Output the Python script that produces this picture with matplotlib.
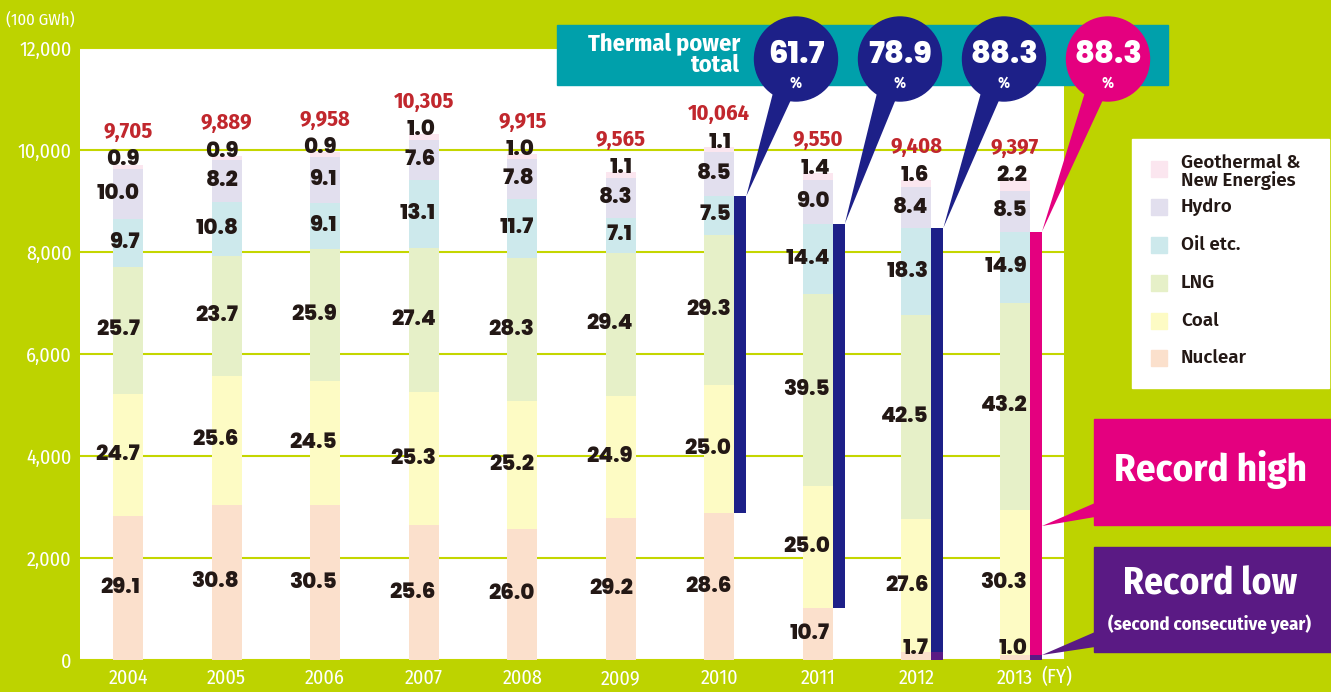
import matplotlib
matplotlib.use('Agg')
import matplotlib.pyplot as plt
from matplotlib.patches import Rectangle, Ellipse, Polygon
from matplotlib import font_manager

# ---------------- data ----------------
years = ['2004', '2005', '2006', '2007', '2008', '2009', '2010', '2011', '2012', '2013']
totals = [9705, 9889, 9958, 10305, 9915, 9565, 10064, 9550, 9408, 9397]
nuclear = [29.1, 30.8, 30.5, 25.6, 26.0, 29.2, 28.6, 10.7, 1.7, 1.0]
coal = [24.7, 25.6, 24.5, 25.3, 25.2, 24.9, 25.0, 25.0, 27.6, 30.3]
lng = [25.7, 23.7, 25.9, 27.4, 28.3, 29.4, 29.3, 39.5, 42.5, 43.2]
oil = [9.7, 10.8, 9.1, 13.1, 11.7, 7.1, 7.5, 14.4, 18.3, 14.9]
hydro = [10.0, 8.2, 9.1, 7.6, 7.8, 8.3, 8.5, 9.0, 8.4, 8.5]
geo = [0.9, 0.9, 0.9, 1.0, 1.0, 1.1, 1.1, 1.4, 1.6, 2.2]
thermal_years = ['2010', '2011', '2012', '2013']
thermal_share = [61.7, 78.9, 88.3, 88.3]
yticks = [0, 2000, 4000, 6000, 8000, 10000, 12000]
legend_labels = ['Geothermal &\nNew Energies', 'Hydro', 'Oil etc.', 'LNG', 'Coal', 'Nuclear']

# ---------------- fonts ----------------
avail = {f.name for f in font_manager.fontManager.ttflist}


def pick(*cands):
    for c in cands:
        if c in avail:
            return c
    return 'DejaVu Sans'


COND = pick('Fira Sans Condensed', 'Roboto Condensed', 'PT Sans Narrow', 'Encode Sans Condensed',
            'Barlow Condensed', 'Liberation Sans Narrow')
HEAVY = pick('Poppins', 'Lato')
LEG = pick('Fira Sans', 'Lato', 'Open Sans')

# ---------------- colours ----------------
BG = '#bdd300'
GRID = '#c4d600'
TEAL = '#00a0ab'
NAVY = '#1d2088'
MAGENTA = '#e4007f'
PURPLE = '#5a1a84'
RED = '#c1272d'
INK = '#231815'
C_NUC = '#fbe0cc'
C_COAL = '#fdfbc4'
C_LNG = '#e6f0c8'
C_OIL = '#cde9ec'
C_HYD = '#e2dfee'
C_GEO = '#fbe6ef'

W, H = 1331, 692
fig = plt.figure(figsize=(W / 100, H / 100), dpi=100, facecolor=BG)

# plot area in pixel coordinates: x 80..1064, y 48..660
L, R, T, B = 80, 1064, 48, 660
ax = fig.add_axes([L / W, (H - B) / H, (R - L) / W, (B - T) / H])
ax.set_facecolor('white')
for s in ax.spines.values():
    s.set_visible(False)

n = len(years)
xs = list(range(n))
step = (1015 - 128) / 9.0
ax.set_xlim(-(128 - L) / step, 9 + (R - 1015) / step)
ax.set_ylim(0, 12000)
bw = 30 / step
tw = 12 / step

segments = [nuclear, coal, lng, oil, hydro, geo]
colors = [C_NUC, C_COAL, C_LNG, C_OIL, C_HYD, C_GEO]
bottoms = [0.0] * n
seg_abs = []
for pct, col in zip(segments, colors):
    vals = [p / 100.0 * t for p, t in zip(pct, totals)]
    ax.bar(xs, vals, width=bw, bottom=bottoms, color=col, zorder=2, linewidth=0)
    seg_abs.append((list(bottoms), vals))
    bottoms = [b + v for b, v in zip(bottoms, vals)]
tops = bottoms

ax.set_yticks(yticks)
ax.set_yticklabels([f'{v:,}' for v in yticks])
ax.set_xticks(xs)
ax.set_xticklabels(years)
ax.tick_params(axis='both', length=0, colors='white')
ax.tick_params(axis='y', pad=6)
ax.tick_params(axis='x', pad=6)
for lab in ax.get_yticklabels() + ax.get_xticklabels():
    lab.set_fontfamily(COND)
    lab.set_fontsize(14.5)
    lab.set_color('white')
ax.yaxis.grid(True, color=GRID, linewidth=1.5, zorder=0)
ax.set_axisbelow(True)

# segment labels
lab_x_off = 12 / step
for k, pct in enumerate(segments):
    bots, vals = seg_abs[k]
    for i in range(n):
        if k == 5:
            y = tops[i] + 80
        elif k == 0:
            y = max(bots[i] + vals[i] / 2, 210)
        else:
            y = bots[i] + vals[i] / 2
        ax.text(xs[i] + lab_x_off, y, f'{pct[i]:.1f}', ha='right', va='center',
                fontsize=15.5, fontweight='heavy', family=HEAVY, color=INK, zorder=5)

# totals
for i in range(n):
    ax.text(xs[i], tops[i] + 640, f'{totals[i]:,}', ha='center', va='center',
            fontsize=16, fontweight='bold', family=COND, color=RED, zorder=5)

# thermal bars
nuc_abs = seg_abs[0][1]
oil_top = [seg_abs[3][0][i] + seg_abs[3][1][i] for i in range(n)]
thermal_idx = [years.index(y) for y in thermal_years]
thermal_cols = [NAVY, NAVY, NAVY, MAGENTA]
for j, i in enumerate(thermal_idx):
    xb = xs[i] + bw / 2 + tw / 2
    ax.bar([xb], [oil_top[i] - nuc_abs[i]], width=tw, bottom=[nuc_abs[i]],
           color=thermal_cols[j], zorder=3, linewidth=0)
    if j >= 2:
        ax.bar([xb], [nuc_abs[i]], width=tw, bottom=[0], color=PURPLE, zorder=3, linewidth=0)

ax.text(9 + (1057 - 1015) / step, -330, '(FY)', ha='center', va='center', fontsize=14.5,
        family=COND, color='white', clip_on=False)

# ---------------- overlay (pixel coordinates) ----------------
ov = fig.add_axes([0, 0, 1, 1], zorder=10)
ov.set_xlim(0, W)
ov.set_ylim(H, 0)
ov.axis('off')
ov.patch.set_alpha(0)

fig.canvas.draw()


def data_to_px(x, y):
    dx, dy = ax.transData.transform((x, y))
    return dx, H - dy


ov.text(40, 20, '(100 GWh)', ha='center', va='center', fontsize=12, family=COND, color='white')

# banner
ov.add_patch(Rectangle((557, 25), 1168 - 557, 60, color=TEAL, zorder=1))
ov.text(740, 55, 'Thermal power\ntotal', ha='right', va='center', fontsize=17.5,
        fontweight='bold', family=COND, color='white', zorder=2, linespacing=0.92,
        multialignment='right')

circ_x = [796, 900, 1004, 1108]
circ_y = 59
for j, i in enumerate(thermal_idx):
    col = thermal_cols[j]
    cx = circ_x[j]
    tx, ty = data_to_px(xs[i] + bw / 2 + tw, oil_top[i])
    ov.add_patch(Polygon([(cx - 22, circ_y + 30), (cx, circ_y + 30), (tx, ty)], closed=True,
                         color=col, zorder=3, linewidth=0))
    ov.add_patch(Ellipse((cx, circ_y), 83, 84, color=col, zorder=3))
    ov.text(cx, circ_y - 3, f'{thermal_share[j]:.1f}', ha='center', va='center', fontsize=22,
            fontweight='heavy', family=HEAVY, color='white', zorder=4)
    ov.text(cx, circ_y + 24, '%', ha='center', va='center', fontsize=11, fontweight='bold',
            family=COND, color='white', zorder=4)

# legend
ov.add_patch(Rectangle((1132, 139), 1329 - 1132, 388 - 139, color='white', zorder=1))
leg_cols = [C_GEO, C_HYD, C_OIL, C_LNG, C_COAL, C_NUC]
leg_y = [169, 207, 245, 283, 321, 358]
for lab, col, yy in zip(legend_labels, leg_cols, leg_y):
    ov.add_patch(Rectangle((1151, yy - 8), 16, 16, color=col, zorder=2))
    ov.text(1181, yy + (3 if '\n' in lab else 0), lab, ha='left', va='center', fontsize=13.5,
            fontweight='semibold', family=LEG, color=INK, zorder=2, linespacing=0.95)

# record boxes
i13 = years.index('2013')
tip_x = data_to_px(xs[i13] + bw / 2 + tw, 0)[0]
ov.add_patch(Rectangle((1094, 419), 1331 - 1094, 525 - 419, color=MAGENTA, zorder=1))
ov.add_patch(Polygon([(1095, 503), (1095, 517), (tip_x, 526)], closed=True, color=MAGENTA,
                     zorder=1, linewidth=0))
ov.text(1210, 470, 'Record high', ha='center', va='center', fontsize=28, fontweight='bold',
        family=COND, color='white', zorder=2)
ov.add_patch(Rectangle((1094, 547), 1331 - 1094, 652 - 547, color=PURPLE, zorder=1))
ov.add_patch(Polygon([(1095, 632), (1095, 647), (tip_x, 655)], closed=True, color=PURPLE,
                     zorder=1, linewidth=0))
ov.text(1210, 584, 'Record low', ha='center', va='center', fontsize=27, fontweight='bold',
        family=COND, color='white', zorder=2)
ov.text(1210, 624, '(second consecutive year)', ha='center', va='center', fontsize=13.5,
        fontweight='bold', family=COND, color='white', zorder=2)

fig.savefig('out.png', dpi=100, facecolor=BG)
